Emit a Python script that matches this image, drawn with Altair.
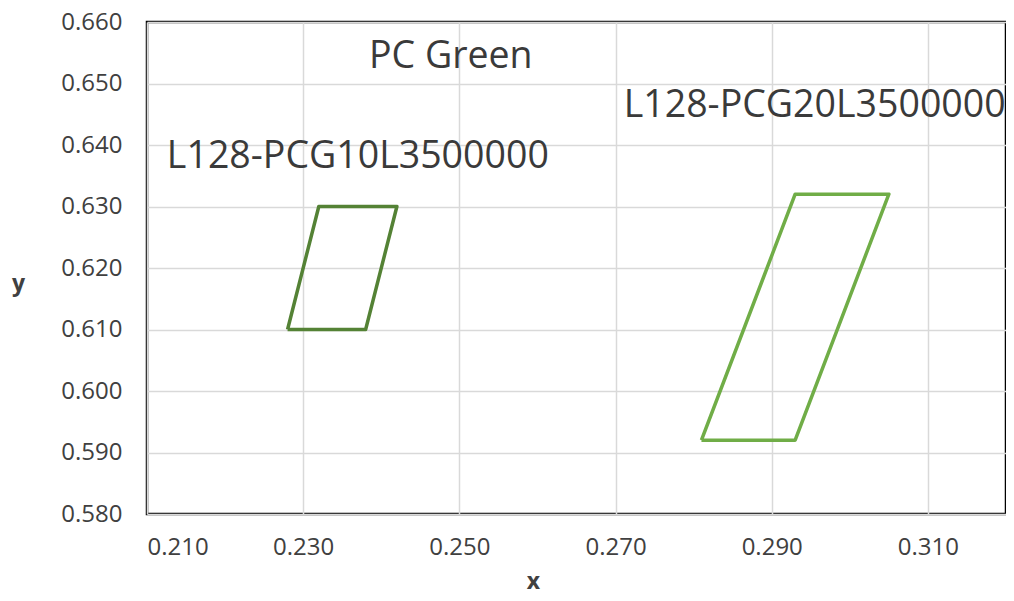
import altair as alt
import pandas as pd

series_names = ["L128-PCG10L3500000"] * 5 + ["L128-PCG20L3500000"] * 5
xs = [0.228, 0.238, 0.242, 0.232, 0.228, 0.281, 0.293, 0.305, 0.293, 0.281]
ys = [0.610, 0.610, 0.630, 0.630, 0.610, 0.592, 0.592, 0.632, 0.632, 0.592]
orders = [0, 1, 2, 3, 4, 0, 1, 2, 3, 4]
series_colors = ["#548235", "#70AD47"]

label_texts = ["PC Green", "L128-PCG10L3500000", "L128-PCG20L3500000"]
label_x = [0.2489, 0.2370, 0.2955]
label_y = [0.6543, 0.6381, 0.6464]

x_ticks = [0.21, 0.23, 0.25, 0.27, 0.29, 0.31]
y_ticks = [0.58, 0.59, 0.60, 0.61, 0.62, 0.63, 0.64, 0.65, 0.66]

df = pd.DataFrame({"series": series_names, "x": xs, "y": ys, "order": orders})
lab = pd.DataFrame({"text": label_texts, "x": label_x, "y": label_y})

font = "Open Sans"
W, H = 859, 492

xscale = alt.Scale(domain=[0.21, 0.32], nice=False, zero=False)
yscale = alt.Scale(domain=[0.58, 0.66], nice=False, zero=False)

xaxis = alt.Axis(values=x_ticks, format=".3f", title="x", ticks=False, domain=False,
                 labelFontSize=24, labelColor="#404040", labelFont=font, labelPadding=21,
                 titleFontSize=23, titleFont=font, titleFontWeight="bold", titleColor="#404040",
                 titleX=386, titleY=67, titleAlign="center", titleBaseline="middle",
                 gridColor="#d9d9d9", gridWidth=1.5)
yaxis = alt.Axis(values=y_ticks, format=".3f", title="y", ticks=False, domain=False,
                 labelFontSize=24, labelColor="#404040", labelFont=font, labelPadding=25,
                 titleFontSize=23, titleFont=font, titleFontWeight="bold", titleColor="#404040",
                 titleAngle=0, titleX=-129, titleY=261, titleAlign="center", titleBaseline="middle",
                 gridColor="#d9d9d9", gridWidth=1.5)

lines = alt.Chart(df).mark_line(strokeWidth=3.5, strokeJoin="round").encode(
    x=alt.X("x:Q", scale=xscale, axis=xaxis),
    y=alt.Y("y:Q", scale=yscale, axis=yaxis),
    color=alt.Color("series:N", scale=alt.Scale(domain=["L128-PCG10L3500000", "L128-PCG20L3500000"], range=series_colors), legend=None),
    order="order:Q",
)

texts = alt.Chart(lab).mark_text(fontSize=37.5, font=font, color="#3a3a3a", align="center", baseline="middle").encode(
    x=alt.X("x:Q", scale=xscale),
    y=alt.Y("y:Q", scale=yscale),
    text="text:N",
)

chart = alt.layer(lines, texts).properties(
    width=W, height=H,
    padding={"left": 139, "top": 14, "right": 0, "bottom": 79},
    autosize=alt.AutoSizeParams(type="none"),
).configure_view(stroke="black", strokeWidth=2.5)

chart.save("out.html", embed_options={"renderer": "svg", "actions": False})
